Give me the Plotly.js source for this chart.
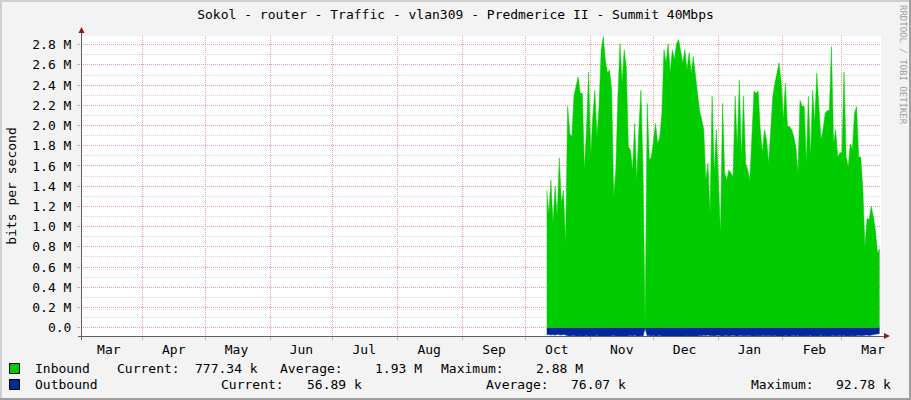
<!DOCTYPE html>
<html><head><meta charset="utf-8">
<script src="https://cdn.plot.ly/plotly-3.0.1.min.js"></script>
<style>html,body{margin:0;padding:0;background:#f3f3f3;} #chart{width:911px;height:400px;}</style>
</head><body><div id="chart"></div>
<script>
const chartTitle = 'Sokol - router - Traffic - vlan309 - Predmerice II - Summit 40Mbps';
const yTitle = 'bits per second';
const watermark = 'RRDTOOL / TOBI OETIKER';

// regular RRD step: one value per day from the first sample
const startDate = '2014-10-11T04:00:00';
const stepHours = 24;

// Inbound, in Mbit/s
const inboundM = [
  1.36,1.13,1.46,1.03,1.40,1.10,1.68,1.23,1.36,0.83,
  2.19,1.92,1.89,2.29,2.39,2.48,2.32,2.32,1.56,1.96,
  2.53,1.69,2.09,2.35,1.89,2.19,2.75,2.88,2.65,2.52,
  2.55,2.35,1.30,1.56,2.29,2.81,2.42,2.75,2.58,1.79,
  1.76,1.56,2.02,1.46,1.96,2.35,1.56,0.04,2.22,1.66,
  1.69,1.86,2.02,1.82,1.89,2.12,2.75,2.62,2.81,2.52,
  2.75,2.65,2.81,2.85,2.72,2.62,2.75,2.55,2.72,2.52,
  2.68,2.48,2.29,2.15,2.06,1.96,1.46,1.63,1.13,2.29,
  1.53,1.96,1.46,0.93,2.22,1.53,1.46,1.56,1.53,1.49,
  2.29,1.79,2.45,1.69,2.29,1.63,1.56,1.46,1.89,2.34,
  2.32,2.34,1.96,1.73,1.96,1.86,1.63,1.96,2.29,2.42,
  2.52,2.62,2.42,2.06,2.42,1.99,1.99,1.96,1.89,1.79,
  1.53,2.25,2.19,2.19,1.63,2.29,1.69,2.35,2.02,2.52,
  2.19,1.86,1.96,2.12,2.15,2.15,2.78,1.82,1.96,1.69,
  1.73,1.73,2.53,1.69,1.59,1.82,1.76,2.12,2.19,1.69,
  1.69,1.36,0.80,1.08,1.07,1.20,1.10,0.97,0.74,0.78
];

// Outbound, in kbit/s (drawn mirrored below zero)
const outboundK = [
  70,66,72,68,74,65,70,73,67,71,
  80,84,78,82,86,83,79,85,81,77,
  84,80,86,82,78,85,88,84,87,83,
  85,79,76,82,86,81,84,88,83,80,
  78,82,75,81,84,79,83,6,80,77,
  82,78,84,80,76,83,87,85,89,84,
  86,82,88,85,83,87,84,80,86,82,
  84,79,82,77,80,75,78,73,79,76,
  81,77,74,80,83,78,76,82,79,75,
  80,84,78,76,82,79,81,77,83,80,
  84,79,81,76,80,78,74,79,82,77,
  83,86,80,84,78,81,85,79,76,82,
  78,84,80,86,79,82,77,83,80,85,
  81,78,84,79,83,92,80,77,82,79,
  76,81,78,83,80,75,79,82,77,74,
  79,76,80,73,77,74,71,68,62,57
];

const monthLabels = ['Mar','Apr','May','Jun','Jul','Aug','Sep','Oct','Nov','Dec','Jan','Feb','Mar'];
const monthLabelDates = ['2014-03-16','2014-04-16','2014-05-16','2014-06-16','2014-07-16','2014-08-16',
  '2014-09-16','2014-10-16','2014-11-16','2014-12-16','2015-01-16','2015-02-16','2015-03-16'];
const monthStarts = ['2014-04-01','2014-05-01','2014-06-01','2014-07-01','2014-08-01','2014-09-01',
  '2014-10-01','2014-11-01','2014-12-01','2015-01-01','2015-02-01','2015-03-01'];
const xRange = ['2014-03-02 17:00','2015-03-19 20:00'];

const yTickVals = [0,0.2,0.4,0.6,0.8,1.0,1.2,1.4,1.6,1.8,2.0,2.2,2.4,2.6,2.8];
const yTickText = ['0.0','0.2 M','0.4 M','0.6 M','0.8 M','1.0 M','1.2 M','1.4 M','1.6 M','1.8 M','2.0 M','2.2 M','2.4 M','2.6 M','2.8 M'];
const yRange = [-0.082, 2.886];

const seriesNames = ['Inbound','Outbound'];
const seriesColors = ['#00CC00','#002A97'];
const inboundStats = {current:'777.34 k', average:'1.93 M', maximum:'2.88 M'};
const outboundStats = {current:'56.89 k', average:'76.07 k', maximum:'92.78 k'};

// ---- build ----
const W = 911, H = 400, L = 81, R = 30, T = 36, B = 64;
const PW = W - L - R, PH = H - T - B;
const px = X => (X - L) / PW;
const py = Y => (H - B - Y) / PH;

function fmt(d){ return d.toISOString().slice(0,19).replace('T',' '); }
const t0 = Date.parse(startDate + 'Z');
const dates = inboundM.map((_, i) => fmt(new Date(t0 + i * stepHours * 3600e3)));

const minorY = [];
for (let k = 1; k < 29; k += 2) minorY.push(k / 10);

const FONT = 'DejaVu Sans Mono';
const fnt = (s, c) => ({family: FONT, size: s, color: c || '#000'});
const RED = '#e8a0a0', GRAY = '#d6d6d6';

const traces = [
  {x: dates, y: inboundM, type: 'scatter', mode: 'lines', fill: 'tozeroy',
   fillcolor: seriesColors[0], line: {color: seriesColors[0], width: 0.5}, name: seriesNames[0]},
  {x: dates, y: outboundK.map(v => -v / 1000), type: 'scatter', mode: 'lines', fill: 'tozeroy',
   fillcolor: seriesColors[1], line: {color: seriesColors[1], width: 0.5}, name: seriesNames[1]}
];

const ann = [];
function txt(text, X, Y, anchor, extra){
  ann.push(Object.assign({text: text, xref: 'paper', yref: 'paper', x: px(X), y: py(Y),
    xanchor: anchor, yanchor: 'middle', showarrow: false, font: fnt(13), borderpad: 0}, extra || {}));
}
// legend rows
txt(seriesNames[0], 34, 368, 'left');
txt('Current:', 116, 368, 'left'); txt(inboundStats.current, 259, 368, 'right');
txt('Average:', 279, 368, 'left'); txt(inboundStats.average, 423, 368, 'right');
txt('Maximum:', 440, 368, 'left'); txt(inboundStats.maximum, 584, 368, 'right');
txt(seriesNames[1], 34, 384, 'left');
txt('Current:', 220, 384, 'left'); txt(outboundStats.current, 363, 384, 'right');
txt('Average:', 485, 384, 'left'); txt(outboundStats.average, 627, 384, 'right');
txt('Maximum:', 750, 384, 'left'); txt(outboundStats.maximum, 892, 384, 'right');
// watermark
txt(watermark, 903, 65, 'center', {textangle: 90, font: fnt(9, '#a0a0a0'), yanchor: 'middle'});

const shapes = [];
function rectPx(x0, y0, x1, y1, fill, line){
  shapes.push({type: 'rect', xref: 'paper', yref: 'paper', x0: px(x0), x1: px(x1), y0: py(y0), y1: py(y1),
    fillcolor: fill, line: line || {width: 0}, layer: 'above'});
}
function linePx(x0, y0, x1, y1, color){
  shapes.push({type: 'line', xref: 'paper', yref: 'paper', x0: px(x0), x1: px(x1), y0: py(y0), y1: py(y1),
    line: {color: color, width: 1}, layer: 'above'});
}
function pathPx(pts, color){
  const p = pts.map((q, i) => (i ? 'L' : 'M') + px(q[0]) + ',' + py(q[1])).join(' ') + ' Z';
  shapes.push({type: 'path', xref: 'paper', yref: 'paper', path: p, fillcolor: color, line: {width: 0}, layer: 'above'});
}
// legend swatches
rectPx(9.5, 363.5, 19.5, 373.5, seriesColors[0], {color: '#000', width: 1});
rectPx(9.5, 379.5, 19.5, 389.5, seriesColors[1], {color: '#000', width: 1});
// axes
linePx(78, 336.5, 884, 336.5, '#606060');
linePx(81.5, 340, 81.5, 31, '#606060');
pathPx([[78.5, 33], [84.5, 33], [81.5, 27]], '#8b1c1c');
pathPx([[884, 333], [884, 339], [890, 336]], '#8b1c1c');
// image frame shading
rectPx(0, 0, 911, 2, '#cfcfcf');
rectPx(0, 0, 2, 400, '#cfcfcf');
rectPx(909, 0, 911, 400, '#9e9e9e');
rectPx(0, 398, 911, 400, '#9e9e9e');

const layout = {
  width: W, height: H,
  margin: {l: L, r: R, t: T, b: B, pad: 0},
  paper_bgcolor: '#f3f3f3', plot_bgcolor: '#ffffff',
  showlegend: false,
  title: {text: chartTitle, font: fnt(13), x: 0.5, xref: 'container', xanchor: 'center',
          y: 1 - 14 / H, yref: 'container', yanchor: 'middle'},
  xaxis: {type: 'date', range: xRange, tickmode: 'array', tickvals: monthLabelDates, ticktext: monthLabels,
          ticks: '', showgrid: false, zeroline: false, showline: false, tickfont: fnt(13),
          ticklabelstandoff: 4, automargin: false,
          minor: {tickmode: 'array', tickvals: monthStarts, showgrid: true, gridcolor: RED, griddash: '1px,1px',
                  gridwidth: 1, ticks: 'outside', ticklen: 3, tickcolor: RED}},
  yaxis: {range: yRange, tickmode: 'array', tickvals: yTickVals, ticktext: yTickText,
          showgrid: true, gridcolor: RED, griddash: '1px,1px', gridwidth: 1, zeroline: false, showline: false,
          ticks: 'outside', ticklen: 3, tickcolor: RED, tickfont: fnt(13), automargin: false,
          ticklabelstandoff: 3,
          title: {text: yTitle, font: fnt(13), standoff: 12},
          minor: {tickmode: 'array', tickvals: minorY, showgrid: true, gridcolor: GRAY, griddash: '1px,1px',
                  gridwidth: 1, ticks: ''}},
  annotations: ann,
  shapes: shapes
};

Plotly.newPlot('chart', traces, layout, {staticPlot: true, displayModeBar: false});
</script></body></html>
